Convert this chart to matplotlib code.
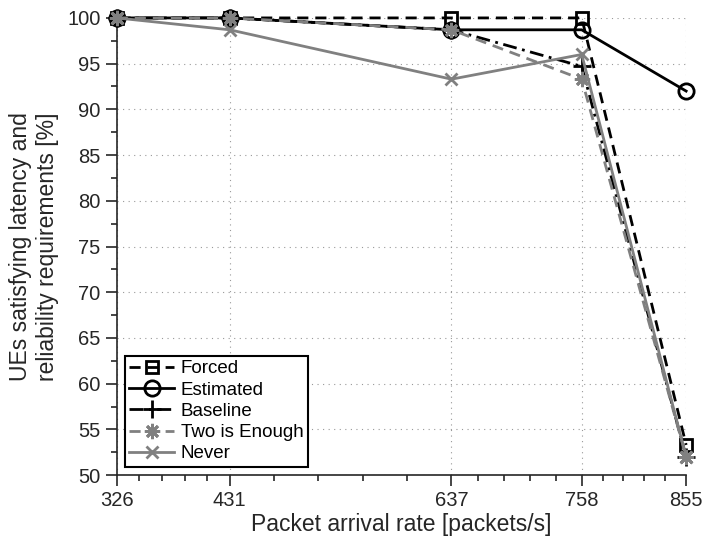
import matplotlib.pyplot as plt
import numpy as np

plt.rcParams['font.family'] = ['Liberation Sans', 'DejaVu Sans']

rates = [326, 431, 637, 758, 855]
forced = [100, 100, 100, 100, 53.3]
estimated = [100, 100, 98.7, 98.7, 92.0]
baseline = [100, 100, 98.7, 94.7, 52.0]
two_enough = [100, 100, 98.7, 93.3, 52.0]
never = [100, 98.7, 93.3, 96.0, 52.0]

gray = '#808080'
txt = '#262626'
asterisk = (8, 2, 0)

fig = plt.figure(figsize=(7.03, 5.43), dpi=100)
ax = fig.add_axes([0.166, 0.125, 0.81, 0.842])

kw = dict(lw=2, clip_on=False, zorder=3)
ax.plot(rates, forced, 'k', ls=(0, (4, 2.5)), marker='s', mfc='none', ms=9, mew=2, label='Forced', **kw)
ax.plot(rates, estimated, 'k-', marker='o', mfc='none', ms=11, mew=2, label='Estimated', **kw)
ax.plot(rates, baseline, 'k', ls=(0, (5, 2, 1, 2)), marker='+', ms=13, mew=2, label='Baseline', **kw)
ax.plot(rates, two_enough, color=gray, ls=(0, (4, 2.5)), marker=asterisk, ms=11, mew=2,
        label='Two is Enough', **kw)
ax.plot(rates, never, '-', color=gray, marker='x', ms=9, mew=2, label='Never', **kw)

ax.set_xlim(326, 855)
ax.set_ylim(50, 100)
ax.set_xticks(rates)
ax.set_yticks(np.arange(50, 101, 5))
minor_x = []
for a, b in zip(rates[:-1], rates[1:]):
    minor_x += list(np.linspace(a, b, 6)[1:-1])
ax.set_xticks(minor_x, minor=True)
ax.set_yticks(np.arange(52.5, 100, 5), minor=True)

ax.grid(True, which='major', linestyle=(0, (1, 4)), color='#999999', lw=0.8)
for s in ['top', 'right']:
    ax.spines[s].set_visible(False)
for s in ['left', 'bottom']:
    ax.spines[s].set_color(txt)
    ax.spines[s].set_linewidth(1.2)
ax.tick_params(which='major', length=8, width=1.2, color=txt, labelsize=14.5, labelcolor=txt)
ax.tick_params(which='minor', length=4, width=1.2, color=txt)

ax.set_xlabel('Packet arrival rate [packets/s]', fontsize=16.5, color=txt, labelpad=2)
ax.set_ylabel('UEs satisfying latency and\nreliability requirements [%]', fontsize=16.5, color=txt, labelpad=6)

leg = ax.legend(loc='lower left', fontsize=13.5, frameon=True, fancybox=False, framealpha=1,
                edgecolor='black', handlelength=2.4, borderpad=0.25, labelspacing=0.22,
                handletextpad=0.35, borderaxespad=0, bbox_to_anchor=(8 / 569, 8 / 457))
leg.get_frame().set_linewidth(1.5)
for t in leg.get_texts():
    t.set_color('black')

fig.savefig('out.png', dpi=100)
